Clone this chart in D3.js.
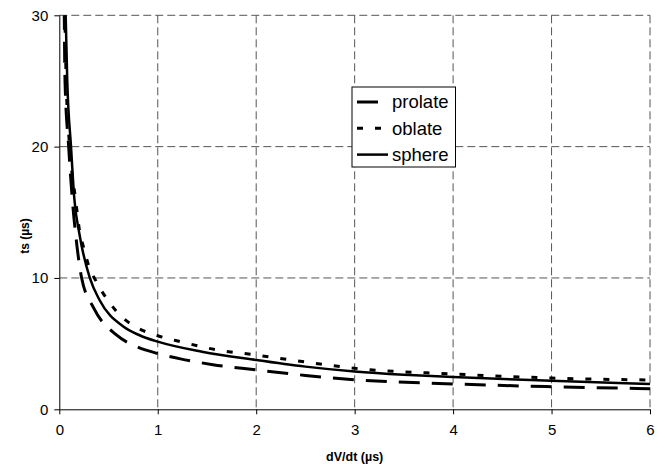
<!DOCTYPE html>
<html>
<head>
<meta charset="utf-8">
<script src="https://cdn.jsdelivr.net/npm/d3@7"></script>
<style>
  body { margin: 0; background: #fff; }
  svg { display: block; font-family: "Liberation Sans", Arial, sans-serif; }
</style>
</head>
<body>
<svg width="665" height="464"></svg>
<script>
// values: [dV/dt, ts]
var prolate = [[0.05,30.5],[0.058,25],[0.095,20],[0.132,16],[0.165,13.4],[0.227,10],[0.35,7.7],
  [0.58,5.66],[0.79,4.75],[1,4.25],[1.23,3.84],[1.56,3.40],[2,3.0],[2.5,2.58],[3,2.25],[4,1.93],[5,1.72],[6,1.57]];
var oblate = [[0.055,30.5],[0.07,25],[0.105,20],[0.165,16],[0.21,13.4],[0.244,12.4],[0.3,10.9],[0.37,9.8],
  [0.515,8.07],[0.65,6.93],[0.79,6.22],[1,5.6],[1.23,5.15],[1.58,4.55],[2,4.13],[2.5,3.6],[3,3.12],[4,2.69],[5,2.38],[6,2.23]];
var sphere = [[0.063,30.5],[0.081,25],[0.119,20],[0.153,16],[0.203,13.4],[0.31,10],[0.41,8.3],[0.65,6.3],
  [0.82,5.62],[1,5.15],[1.45,4.38],[2,3.75],[2.5,3.25],[3,2.88],[3.5,2.63],[4,2.45],[5,2.18],[6,1.93]];

var seriesNames = ["prolate", "oblate", "sphere"];
var xTicks = [0, 1, 2, 3, 4, 5, 6];
var yTicks = [0, 10, 20, 30];

var svg = d3.select("svg"),
    margin = {top: 15.3, right: 15, bottom: 54.7, left: 59.3},
    width = +svg.attr("width") - margin.left - margin.right,
    height = +svg.attr("height") - margin.top - margin.bottom;

var x = d3.scaleLinear().domain([0, 6]).range([0, width]);
var y = d3.scaleLinear().domain([0, 30]).range([height, 0]);

var styles = {
  prolate: {dash: "21,12", w: 3},
  oblate: {dash: "6,12", w: 3},
  sphere: {dash: null, w: 2.5}
};
var data = {prolate: prolate, oblate: oblate, sphere: sphere};

var g = svg.append("g")
    .attr("transform", "translate(" + margin.left + "," + margin.top + ")");

svg.append("defs").append("clipPath").attr("id", "clip")
  .append("rect").attr("width", width).attr("height", height);

// gridlines
g.append("g").selectAll("line")
  .data(xTicks.slice(1))
  .enter().append("line")
    .attr("x1", function(d) { return x(d); })
    .attr("x2", function(d) { return x(d); })
    .attr("y1", 0).attr("y2", height)
    .attr("stroke", "#555")
    .attr("stroke-dasharray", "8,4");

g.append("g").selectAll("line")
  .data(yTicks.slice(1))
  .enter().append("line")
    .attr("x1", 0).attr("x2", width)
    .attr("y1", function(d) { return y(d); })
    .attr("y2", function(d) { return y(d); })
    .attr("stroke", "#555")
    .attr("stroke-dasharray", "8,4");

// axes
var xAxis = g.append("g")
    .attr("transform", "translate(0," + height + ")")
    .call(d3.axisBottom(x).tickValues(xTicks).tickSize(5).tickPadding(10).tickFormat(d3.format("d")));
var yAxis = g.append("g")
    .call(d3.axisLeft(y).tickValues(yTicks).tickSize(5).tickPadding(6).tickFormat(d3.format("d")));

[xAxis, yAxis].forEach(function(a) {
  a.select(".domain").attr("stroke", "#000");
  a.selectAll(".tick line").attr("stroke", "#000");
  a.selectAll("text")
    .attr("font-family", "Liberation Sans, Arial, sans-serif")
    .attr("font-size", 15)
    .attr("fill", "#000");
});
xAxis.select(".domain").attr("d", "M0,0.5H" + width);
yAxis.select(".domain").attr("d", "M0.5,0V" + height);

// curves
var line = d3.line()
    .x(function(d) { return x(d[0]); })
    .y(function(d) { return y(d[1]); })
    .curve(d3.curveMonotoneX);

var curves = g.append("g").attr("clip-path", "url(#clip)");
seriesNames.forEach(function(name) {
  curves.append("path")
    .datum(data[name])
    .attr("d", line)
    .attr("fill", "none")
    .attr("stroke", "#000")
    .attr("stroke-width", styles[name].w)
    .attr("stroke-dasharray", styles[name].dash);
});

// axis titles
svg.append("text")
    .attr("x", margin.left + width / 2)
    .attr("y", 461)
    .attr("text-anchor", "middle")
    .attr("font-weight", "bold")
    .attr("font-size", 12.5)
    .text("dV/dt (µs)");

svg.append("text")
    .attr("transform", "translate(29,236) rotate(-90)")
    .attr("text-anchor", "middle")
    .attr("font-weight", "bold")
    .attr("font-size", 12)
    .text("ts (µs)");

// legend
var legend = svg.append("g").attr("transform", "translate(352,87)");
legend.append("rect")
    .attr("width", 103.5).attr("height", 80)
    .attr("fill", "#fff")
    .attr("stroke", "#000");

var row = legend.selectAll("g.row")
  .data(seriesNames)
  .enter().append("g")
    .attr("class", "row")
    .attr("transform", function(d, i) { return "translate(0," + (15 + i * 26.3) + ")"; });

row.append("line")
    .attr("x1", 5).attr("x2", 36)
    .attr("stroke", "#000")
    .attr("stroke-width", function(d) { return styles[d].w; })
    .attr("stroke-dasharray", function(d) { return styles[d].dash; });

row.append("text")
    .attr("x", 40)
    .attr("dy", "0.35em")
    .attr("font-size", 18.5)
    .text(function(d) { return d; });
</script>
</body>
</html>
